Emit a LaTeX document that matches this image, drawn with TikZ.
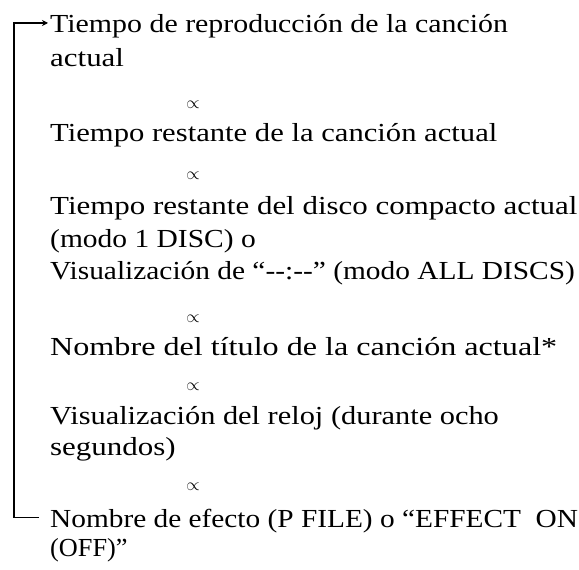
\documentclass[tikz,border=0pt]{standalone}
\usepackage{graphicx}
\usepackage{fontspec}
\setmainfont[FakeStretch=1.19]{Liberation Serif}
\usetikzlibrary{arrows.meta}
\newcommand\hsq[2]{\scalebox{#1}[1]{#2}}
\tikzset{
  txt/.style={anchor=base west, inner sep=0pt, font=\fontsize{26bp}{30bp}\selectfont},
  prop/.style={anchor=center, inner sep=0pt, font=\fontsize{17bp}{20bp}\selectfont},
  loopline/.style={line width=1.7bp, -{Stealth[length=6bp,width=6bp]}}
}
\begin{document}
\begin{tikzpicture}[x=1bp,y=-1bp]
\useasboundingbox (0,0) rectangle (579,570);
\node[txt] (l1) at (50,32.5) {\hsq{0.966}{Tiempo de reproducción de la canción}};
\node[txt] (l2) at (50,67) {actual};
\node[prop] (p1) at (193,104.5) {$\propto$};
\node[txt] (l3) at (50,142) {\hsq{0.99}{Tiempo restante de la canción actual}};
\node[prop] (p2) at (193,176) {$\propto$};
\node[txt] (l4) at (50,214) {Tiempo restante del disco compacto actual};
\node[txt] (l5) at (50,247) {\hsq{0.953}{(modo 1 DISC) o}};
\node[txt] (l6) at (50,279) {\hsq{0.95}{Visualización de “-{}-:-{}-” (modo ALL DISCS)}};
\node[prop] (p3) at (193,319) {$\propto$};
\node[txt] (l7) at (50,355) {\hsq{1.039}{Nombre del título de la canción actual*}};
\node[prop] (p4) at (193,387) {$\propto$};
\node[txt] (l8) at (50,424) {\hsq{0.982}{Visualización del reloj (durante ocho}};
\node[txt] (l9) at (50,455) {segundos)};
\node[prop] (p5) at (193,487) {$\propto$};
\node[txt] (l10) at (50,527) {\hsq{0.948}{Nombre de efecto (P FILE) o “EFFECT\ \ ON}};
\node[txt] (l11) at (50,556) {\hsq{0.85}{(OFF)”}};
\draw[loopline] ([xshift=-11bp,yshift=9.5bp]l10.base west) -- ++(-25,0) |- ([xshift=-2bp,yshift=9.5bp]l1.base west);
\end{tikzpicture}
\end{document}
